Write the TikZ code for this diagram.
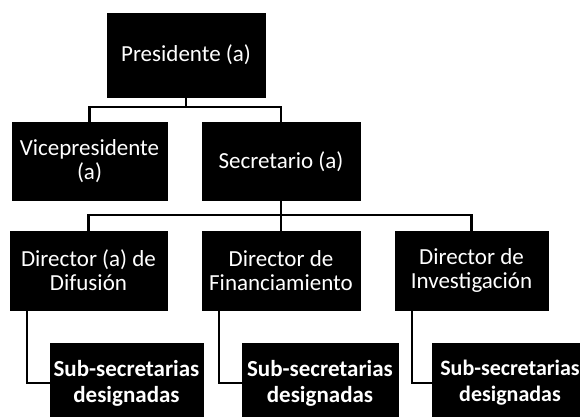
\documentclass[tikz,border=0pt]{standalone}
\usepackage{fontspec}
\setmainfont{Carlito}
\begin{document}
\begin{tikzpicture}[x=1pt,y=-1pt,
  orgbox/.style={rectangle,fill=black,draw=black,text=white,align=center,
    minimum width=156pt,minimum height=78pt,inner sep=0pt,
    font=\fontsize{23}{24}\selectfont},
  subbox/.style={orgbox,minimum height=80pt,font=\fontsize{23}{26}\selectfont\bfseries},
  link/.style={draw=black,line width=2.5pt}]
\useasboundingbox (0,0) rectangle (580,416);
\node[orgbox,minimum width=158pt,minimum height=84pt] (pres) at (186,55) {Presidente (a)};
\node[orgbox,minimum width=155pt] (vice) at (89.5,161.5) {Vicepresidente\\(a)};
\node[orgbox,minimum width=158pt] (sec) at (281,161.5) {Secretario (a)};
\node[orgbox,minimum width=157pt,minimum height=79pt] (d1) at (88.5,270.5) {Director (a) de\\Difusión};
\node[orgbox,minimum width=158pt,minimum height=79pt] (d2) at (281,270.5) {Director de\\Financiamiento};
\node[orgbox,minimum width=153pt,minimum height=79pt] (d3) at (471.5,270.5) {Director de\\Investigación};
\node[subbox,minimum width=153pt] (s1) at (126.5,383) {Sub-secretarias\\designadas};
\node[subbox] (s2) at (320,383) {Sub-secretarias\\designadas};
\node[subbox,font=\fontsize{22}{26}\selectfont\bfseries] (s3) at (510,383) {Sub-secretarias\\designadas};
\coordinate (bus1) at (0,107);
\coordinate (bus2) at (0,215);
\draw[link] (pres.south) -- (pres.south |- bus1) -| (vice.north);
\draw[link] (pres.south) -- (pres.south |- bus1) -| (sec.north);
\draw[link] (sec.south) -- (sec.south |- bus2) -| (d1.north);
\draw[link] (sec.south) -- (sec.south |- bus2) -| (d2.north);
\draw[link] (sec.south) -- (sec.south |- bus2) -| (d3.north);
\draw[link] ([xshift=17pt]d1.south west) |- (s1.west);
\draw[link] ([xshift=17pt]d2.south west) |- (s2.west);
\draw[link] ([xshift=17pt]d3.south west) |- (s3.west);
\end{tikzpicture}
\end{document}
